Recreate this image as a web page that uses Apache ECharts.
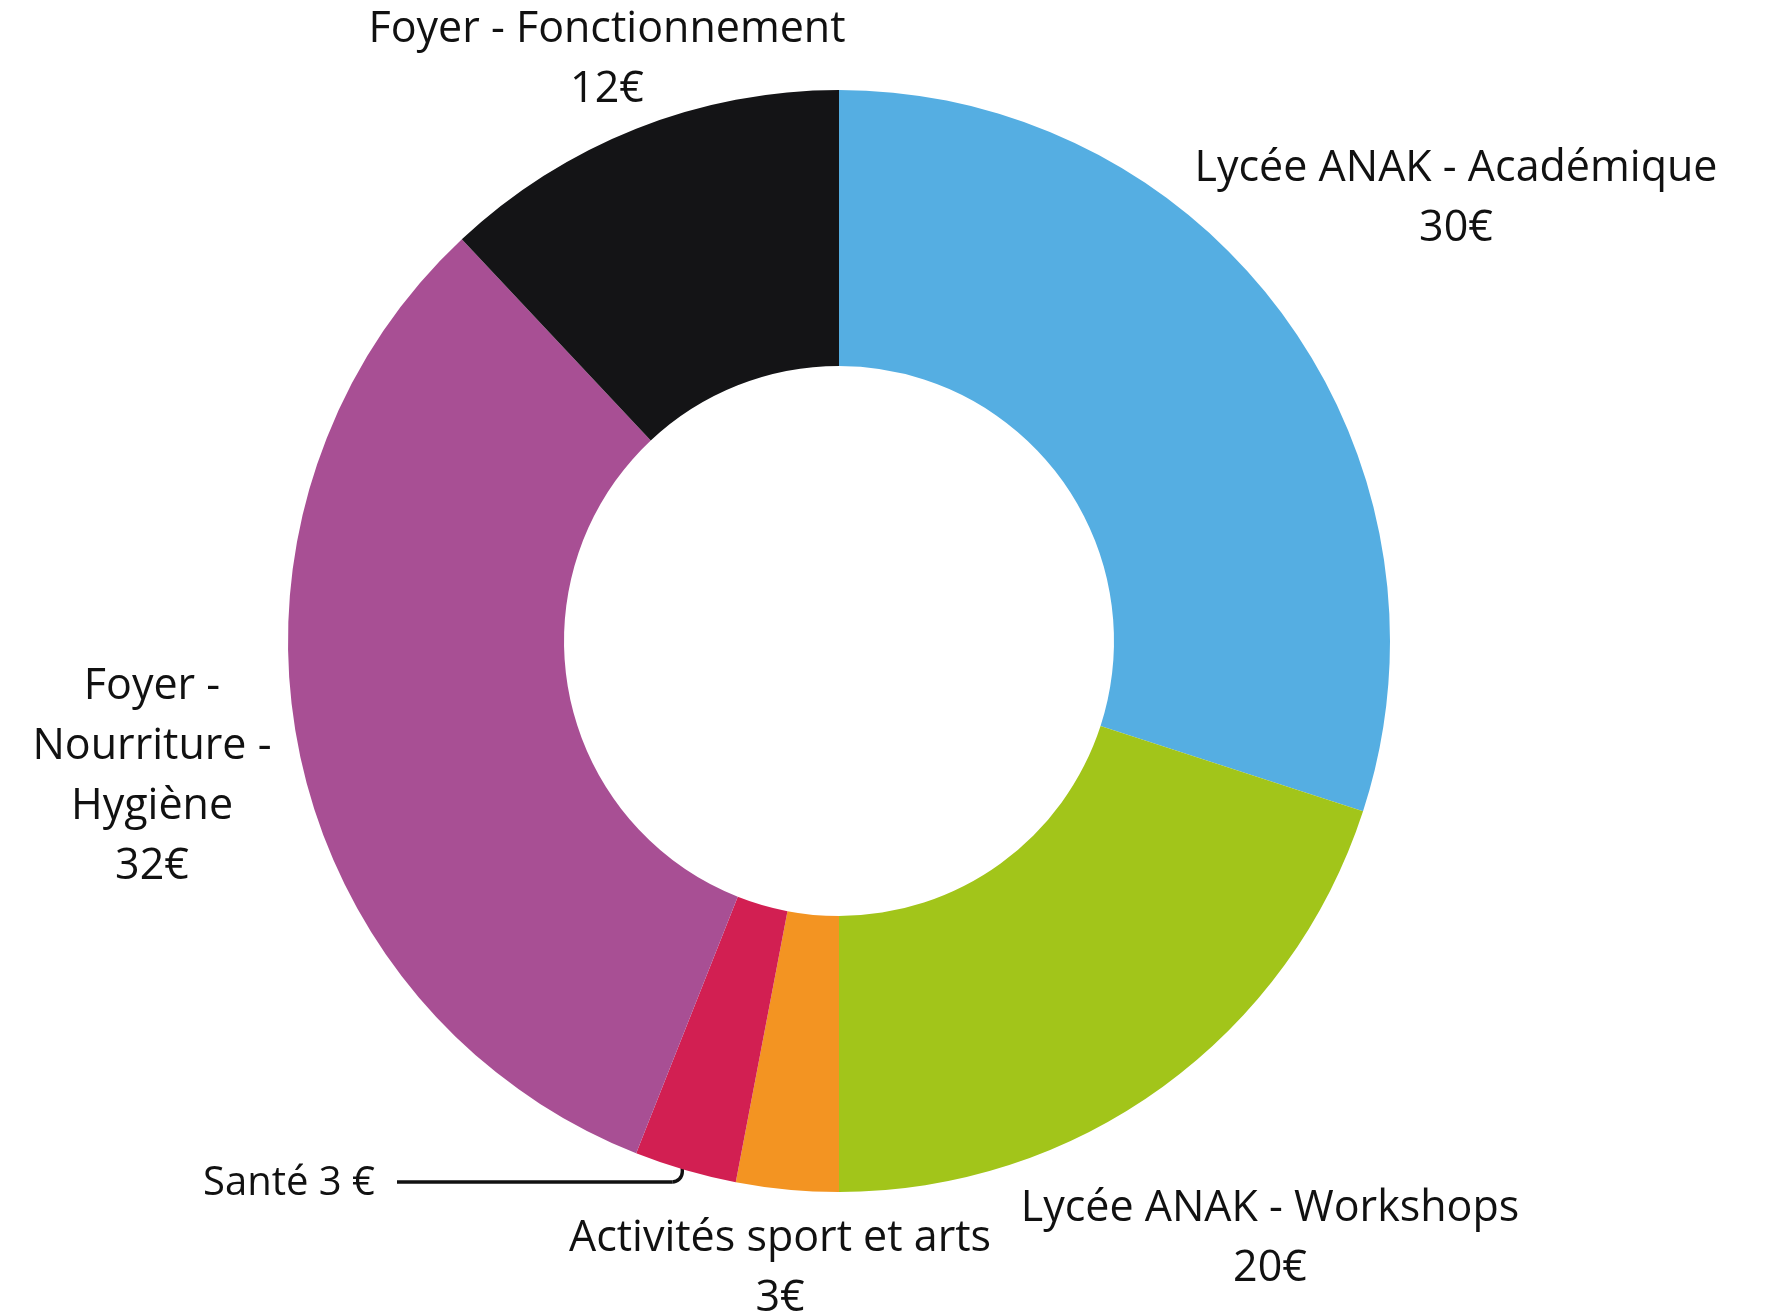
<!DOCTYPE html>
<html>
<head>
<meta charset="utf-8">
<script src="https://cdn.jsdelivr.net/npm/echarts@6/dist/echarts.min.js"></script>
<style>
html,body{margin:0;padding:0;background:#fff;}
#chart{width:1776px;height:1315px;}
</style>
</head>
<body>
<div id="chart"></div>
<script>
const categories = ['Lycée ANAK - Académique', 'Lycée ANAK - Workshops', 'Activités sport et arts', 'Santé', 'Foyer - Nourriture - Hygiène', 'Foyer - Fonctionnement'];
const values = [30, 20, 3, 3, 32, 12];
const currency = '€';

const colors = ['#55aee2', '#a2c51a', '#f39422', '#d21f52', '#a84f94', '#141416'];
// label placement [x, y, align]
const labelPlacement = [
  [1456, 199, 'center'],
  [1270, 1239, 'center'],
  [780, 1269, 'center'],
  [203, 1184, 'left'],
  [152, 777, 'center'],
  [607, 60, 'center']
];
const santeIndex = 3;
const santeLineEndX = 397;
const santeLineY = 1182;

const chart = echarts.init(document.getElementById('chart'), null, {renderer: 'canvas'});

const option = {
  animation: false,
  backgroundColor: '#ffffff',
  series: [{
    type: 'pie',
    center: [839, 641],
    radius: [275, 551],
    startAngle: 90,
    clockwise: true,
    avoidLabelOverlap: false,
    emphasis: {disabled: true},
    silent: true,
    itemStyle: {borderWidth: 0},
    label: {
      show: true,
      position: 'outside',
      fontFamily: 'Open Sans',
      fontSize: 43,
      lineHeight: 60,
      color: '#111111',
      align: 'center',
      formatter: function (p) {
        if (p.dataIndex === santeIndex) return p.name + ' ' + p.value + ' ' + currency;
        if (p.dataIndex === 4) return p.name.replace(/ - /g, ' -\n') + '\n' + p.value + currency;
        return p.name + '\n' + p.value + currency;
      }
    },
    labelLine: {show: false},
    labelLayout: function (params) {
      const pl = labelPlacement[params.dataIndex];
      return {x: pl[0], y: pl[1], align: pl[2], verticalAlign: 'middle', hideOverlap: false};
    },
    data: categories.map((c, i) => {
      const d = {name: c, value: values[i], itemStyle: {color: colors[i]}};
      if (i === santeIndex) d.label = {fontSize: 40, lineHeight: 50};
      return d;
    })
  }]
};
chart.setOption(option);

// leader line for Santé, computed from the pie's own layout
const data = chart.getModel().getSeriesByIndex(0).getData();
const lay = data.getItemLayout(santeIndex);
const mid = (lay.startAngle + lay.endAngle) / 2;
const x0 = lay.cx + lay.r * Math.cos(mid) - 3;
const y0 = lay.cy + (lay.r - 14) * Math.sin(mid);
const yL = santeLineY;
const rad = 10;
const st = {stroke: '#111111', lineWidth: 3.4, fill: null, lineCap: 'butt'};
chart.setOption({
  graphic: [
    {type: 'line', silent: true, shape: {x1: x0, y1: y0, x2: x0, y2: yL - rad}, style: st},
    {type: 'arc', silent: true, shape: {cx: x0 - rad, cy: yL - rad, r: rad, startAngle: 0, endAngle: Math.PI / 2, clockwise: true}, style: st},
    {type: 'line', silent: true, shape: {x1: x0 - rad, y1: yL, x2: santeLineEndX, y2: yL}, style: st}
  ]
});
</script>
</body>
</html>
